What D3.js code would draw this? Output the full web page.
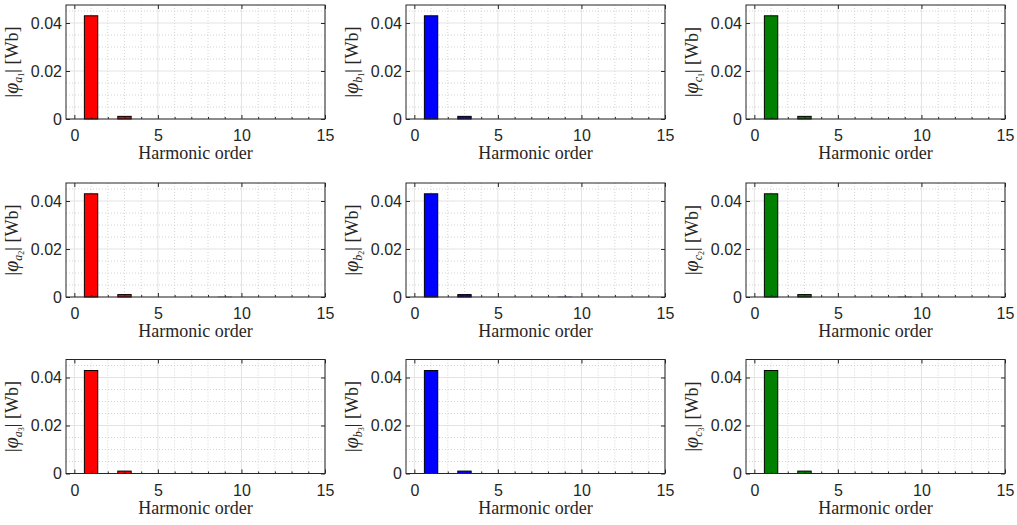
<!DOCTYPE html>
<html lang="en">
<head>
<meta charset="utf-8">
<script src="https://d3js.org/d3.v7.min.js"></script>
<style>
  body { margin: 0; background: #fff; }
  svg text.tk { font-family: "Liberation Sans", Arial, Helvetica, sans-serif; }
  svg text.lbl { font-family: "Liberation Serif", "Times New Roman", "DejaVu Serif", serif; }
</style>
</head>
<body>
<script>

var width = 1017, height = 525;

// harmonic orders on the x axis
var harmonics = [1, 2, 3, 4, 5, 6, 7, 8, 9, 10, 11, 12, 13, 14, 15];

// flux linkage magnitude per harmonic [Wb]
var phiA1 = [0.0430, 0, 0.0011, 0, 0, 0, 0, 0, 0, 0, 0, 0, 0, 0, 0];
var phiB1 = [0.0430, 0, 0.0011, 0, 0, 0, 0, 0, 0, 0, 0, 0, 0, 0, 0];
var phiC1 = [0.0430, 0, 0.0011, 0, 0, 0, 0, 0, 0, 0, 0, 0, 0, 0, 0];
var phiA2 = [0.0430, 0, 0.0010, 0, 0, 0, 0, 0, 0.0001, 0, 0, 0, 0, 0, 0];
var phiB2 = [0.0430, 0, 0.0010, 0, 0, 0, 0, 0, 0.0001, 0, 0, 0, 0, 0, 0];
var phiC2 = [0.0430, 0, 0.0010, 0, 0, 0, 0, 0, 0.0001, 0, 0, 0, 0, 0, 0];
var phiA3 = [0.0429, 0, 0.0010, 0, 0, 0, 0, 0, 0.0001, 0, 0, 0, 0, 0, 0];
var phiB3 = [0.0429, 0, 0.0010, 0, 0, 0, 0, 0, 0.0001, 0, 0, 0, 0, 0, 0];
var phiC3 = [0.0429, 0, 0.0010, 0, 0, 0, 0, 0, 0.0001, 0, 0, 0, 0, 0, 0];

var xTicks = [0, 5, 10, 15];
var yTicks = [0, 0.02, 0.04];
var xLabel = "Harmonic order";

var panels = [
  { data: phiA1, phase: "a", idx: "1", color: "#ff0000" },
  { data: phiB1, phase: "b", idx: "1", color: "#0000ff" },
  { data: phiC1, phase: "c", idx: "1", color: "#008000" },
  { data: phiA2, phase: "a", idx: "2", color: "#ff0000" },
  { data: phiB2, phase: "b", idx: "2", color: "#0000ff" },
  { data: phiC2, phase: "c", idx: "2", color: "#008000" },
  { data: phiA3, phase: "a", idx: "3", color: "#ff0000" },
  { data: phiB3, phase: "b", idx: "3", color: "#0000ff" },
  { data: phiC3, phase: "c", idx: "3", color: "#008000" }
];

var plotW = 259, plotH = 114;
var colX = [66, 406, 746];
var rowY = [5, 183, 359.5];

var svg = d3.select("body").append("svg")
  .attr("width", width)
  .attr("height", height);

var x = d3.scaleLinear().domain([-0.5, 15]).range([0, plotW]);
var y = d3.scaleLinear().domain([0, 0.0475]).range([plotH, 0]);

var minorX = d3.range(0, 16).filter(function (d) { return d % 5 !== 0; });
var minorY = [0.005, 0.01, 0.015, 0.025, 0.03, 0.035, 0.045];
var barW = x(0.8) - x(0);

panels.forEach(function (p, i) {
  var g = svg.append("g")
    .attr("transform", "translate(" + colX[i % 3] + "," + rowY[Math.floor(i / 3)] + ")");

  // minor grid
  g.selectAll(".mgx").data(minorX).enter().append("line")
    .attr("x1", function (d) { return x(d); }).attr("x2", function (d) { return x(d); })
    .attr("y1", 0).attr("y2", plotH)
    .attr("stroke", "#d4d4d4").attr("stroke-dasharray", "1,2");
  g.selectAll(".mgy").data(minorY).enter().append("line")
    .attr("y1", function (d) { return y(d); }).attr("y2", function (d) { return y(d); })
    .attr("x1", 0).attr("x2", plotW)
    .attr("stroke", "#d4d4d4").attr("stroke-dasharray", "1,2");

  // major grid
  g.selectAll(".gx").data(xTicks).enter().append("line")
    .attr("x1", function (d) { return x(d); }).attr("x2", function (d) { return x(d); })
    .attr("y1", 0).attr("y2", plotH)
    .attr("stroke", "#e3e3e3");
  g.selectAll(".gy").data(yTicks).enter().append("line")
    .attr("y1", function (d) { return y(d); }).attr("y2", function (d) { return y(d); })
    .attr("x1", 0).attr("x2", plotW)
    .attr("stroke", "#e3e3e3");

  // bars
  g.selectAll(".bar").data(p.data).enter().append("rect")
    .attr("x", function (d, j) { return x(harmonics[j]) - barW / 2; })
    .attr("y", function (d) { return y(d); })
    .attr("width", barW)
    .attr("height", function (d) { return plotH - y(d); })
    .attr("fill", p.color)
    .attr("stroke", function (d) { return d > 0.0005 ? "#000" : "#bbb"; })
    .attr("stroke-width", 1);

  // axes (ticks inward)
  g.append("g").attr("transform", "translate(0," + plotH + ")")
    .call(d3.axisBottom(x).tickValues(xTicks).tickSize(-4).tickPadding(11).tickFormat(d3.format("d")));
  g.append("g")
    .call(d3.axisLeft(y).tickValues(yTicks).tickSize(-4).tickPadding(4)
      .tickFormat(function (d) { return d === 0 ? "0" : d3.format(".2f")(d); }));
  g.append("g").call(d3.axisTop(x).tickValues(xTicks).tickSize(-4).tickFormat(""));
  g.append("g").attr("transform", "translate(" + plotW + ",0)")
    .call(d3.axisRight(y).tickValues(yTicks).tickSize(-4).tickFormat(""));
  // minor ticks on bottom
  g.append("g").attr("transform", "translate(0," + plotH + ")")
    .call(d3.axisBottom(x).tickValues(minorX).tickSize(-2).tickFormat(""));

  g.selectAll(".domain").remove();
  g.selectAll(".tick line").attr("stroke", "#262626");
  g.selectAll(".tick text").attr("class", "tk").attr("font-size", 16).attr("fill", "#262626");
  g.selectAll("g").attr("font-family", null);

  // box
  g.append("rect").attr("width", plotW).attr("height", plotH)
    .attr("fill", "none").attr("stroke", "#262626").attr("stroke-width", 1);

  // x label
  g.append("text").attr("class", "lbl")
    .attr("x", plotW / 2).attr("y", plotH + 40)
    .attr("text-anchor", "middle")
    .attr("font-size", 18).attr("fill", "#262626")
    .text(xLabel);

  // y label |phi_{a_1}| [Wb]
  var yl = g.append("text").attr("class", "lbl")
    .attr("transform", "translate(-48," + plotH / 2 + ") rotate(-90)")
    .attr("text-anchor", "middle")
    .attr("font-size", 18).attr("fill", "#262626");
  yl.append("tspan").text("|");
  yl.append("tspan").attr("font-style", "italic").attr("font-size", 20).text("φ");
  yl.append("tspan").attr("font-style", "italic").attr("font-size", 12).attr("dy", 4).text(p.phase);
  yl.append("tspan").attr("font-size", 8).attr("dy", 2).text(p.idx);
  yl.append("tspan").attr("dy", -6).text("| [Wb]");
});

</script>
</body>
</html>
